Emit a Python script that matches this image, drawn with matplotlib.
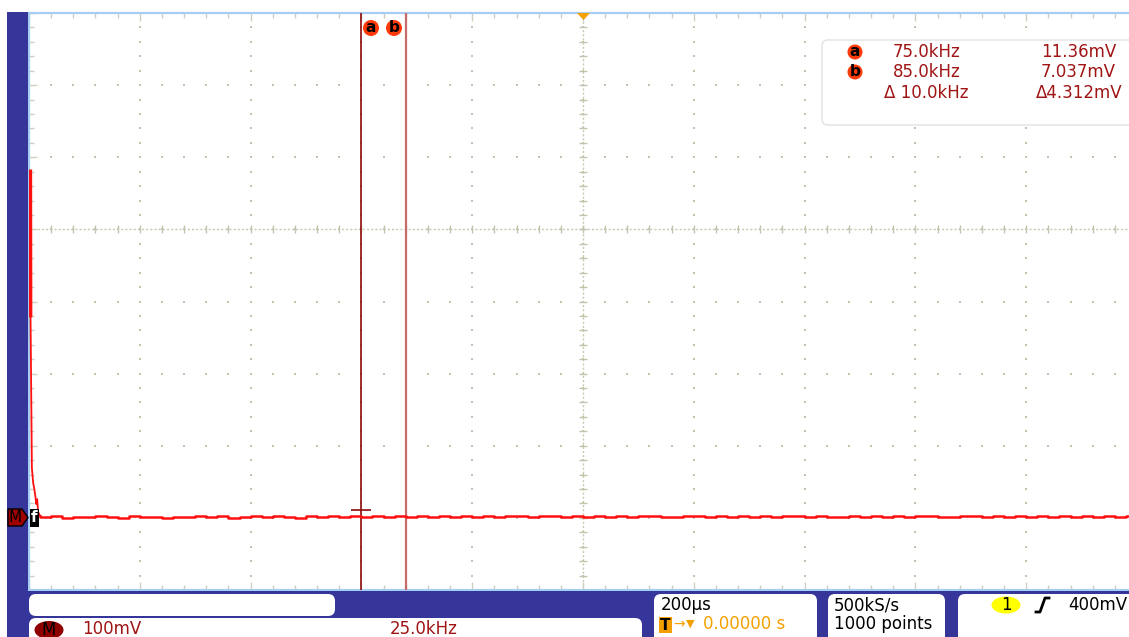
import matplotlib
matplotlib.use('Agg')
import matplotlib.pyplot as plt
from matplotlib.patches import Rectangle, FancyBboxPatch, Circle, Ellipse, Polygon
from matplotlib.lines import Line2D
from matplotlib.transforms import Affine2D
import numpy as np

W, H = 1129, 637

# ---------------- data ----------------
khz_per_div = 25.0
mv_per_div = 100.0
x_range_khz = (0.0, 250.0)
y_range_mv = (-100.0, 700.0)

# FFT spike near DC (kHz, mV)
spike_khz = [0.30, 0.35, 0.65, 0.95, 1.20, 1.45, 1.65, 1.85, 2.05, 2.50]
spike_mv = [483, 278, 69, 48, 40, 29, 19, 26, 8, 3]

# noise floor, one value per 2.5 kHz bin from 2.5 kHz to 250 kHz (mV)
base_start_khz = 2.5
base_step_khz = 2.5
base_mv = [
    1.5, 2.0, 0.5, 1.5, 1.5, 2.0, 1.0, 0.5, 2.0, 1.5,
    1.0, 0.0, 1.5, 1.5, 2.0, 1.0, 2.0, 0.5, 1.5, 2.0,
    1.0, 2.5, 1.5, 0.5, 2.0, 1.5, 2.5, 1.0, 2.0, 1.5,
    2.5, 1.0, 2.5, 1.0, 2.0, 1.0, 2.5, 1.5, 2.5, 1.0,
    2.0, 1.0, 2.0, 2.5, 1.0, 2.0, 2.5, 1.0, 2.5, 1.5,
    2.0, 1.5, 2.5, 1.0, 2.0, 2.5, 1.5, 1.0, 2.0, 2.5,
    1.5, 2.0, 1.0, 2.5, 1.5, 2.0, 1.0, 2.0, 2.5, 1.5,
    2.0, 1.0, 1.5, 2.5, 1.0, 2.0, 1.5, 2.5, 1.0, 2.0,
    2.5, 1.5, 1.0, 2.0, 2.5, 1.5, 2.0, 1.0, 2.0, 1.5,
    2.5, 1.0, 2.0, 1.5, 2.5, 1.0, 2.0, 1.5, 2.5, 2.0,
]
base_khz = base_start_khz + base_step_khz * np.arange(len(base_mv))

cursor_a_khz, cursor_a_mv = 75.0, 11.36
cursor_b_khz, cursor_b_mv = 85.0, 7.037
trigger_pos_khz = 125.0
center_hline_mv = 400.0

readout_rows = [
    ("a", "75.0kHz", "11.36mV"),
    ("b", "85.0kHz", "7.037mV"),
    ("", "\u0394 10.0kHz", "\u03944.312mV"),
]

# ---------------- figure ----------------
fig = plt.figure(figsize=(W / 100, H / 100), dpi=100, facecolor='white')
T = Affine2D().scale(1, -1).translate(0, H)  # pixel coords, origin top-left

FONT = 'DejaVu Sans'
DRED = '#a01414'
BLUE = '#35359a'
ORANGE = '#f4a000'

# axes: plot area spans x 29..1137 px (cropped at 1129), y 13..590 px
ax_left, ax_right, ax_top, ax_bot = 29, 1137, 13, 590
ax = fig.add_axes([ax_left / W, 1 - ax_bot / H, (ax_right - ax_left) / W, (ax_bot - ax_top) / H])
ax.set_xlim(*x_range_khz)
ax.set_ylim(*y_range_mv)
ax.set_facecolor('white')
for s in ['top', 'left', 'bottom']:
    ax.spines[s].set_color('#a6cdf2')
    ax.spines[s].set_linewidth(1.6)
ax.spines['right'].set_visible(False)

# graticule ticks on edges
ax.set_xticks(np.arange(0, 250.1, khz_per_div))
ax.set_xticks(np.arange(0, 250.1, khz_per_div / 5), minor=True)
ax.set_yticks(np.arange(-100, 700.1, mv_per_div))
ax.set_yticks(np.arange(-100, 700.1, mv_per_div / 5), minor=True)
ax.tick_params(which='both', direction='in', color='#cfcfbe', top=True, right=False,
               labelleft=False, labelbottom=False, width=1)
ax.tick_params(which='major', length=6)
ax.tick_params(which='minor', length=3.5)

# grid dots
gx_major = np.arange(0, 250.1, khz_per_div)
gy_major = np.arange(-100, 700.1, mv_per_div)
gx_minor = np.arange(0, 250.1, khz_per_div / 5)
gy_minor = np.arange(-100, 700.1, mv_per_div / 5)
X1, Y1 = np.meshgrid(gx_major, gy_minor)
X2, Y2 = np.meshgrid(gx_minor, gy_major)
ax.scatter(X1.ravel(), Y1.ravel(), s=2.5, marker='s', color='#c4c4ae', linewidths=0, zorder=1)
ax.scatter(X2.ravel(), Y2.ravel(), s=2.5, marker='s', color='#c4c4ae', linewidths=0, zorder=1)

# centre dotted lines + cross ticks
ax.axvline(trigger_pos_khz, color='#c8c8b2', lw=1.0, ls=(0, (1.5, 1.5)), zorder=1)
ax.axhline(center_hline_mv, color='#c8c8b2', lw=1.0, ls=(0, (1.5, 1.5)), zorder=1)
ax.plot(np.full_like(gy_minor, trigger_pos_khz), gy_minor, ls='none', marker='_', ms=6,
        mew=1, color='#c4c4ae', zorder=1)
ax.plot(gx_minor, np.full_like(gx_minor, center_hline_mv), ls='none', marker='|', ms=6,
        mew=1, color='#c4c4ae', zorder=1)

# cursors
ax.axvline(cursor_a_khz, color='#8c0a0a', lw=1.2, zorder=3)
ax.axvline(cursor_b_khz, color='#c66a6a', lw=1.6, zorder=3)
ax.plot([cursor_a_khz], [cursor_a_mv], marker='_', ms=15, mew=1.2, color='#8c0a0a', zorder=5)

# trace
ax.plot(spike_khz[:2], spike_mv[:2], color='#ff1010', lw=2.6, zorder=6, solid_capstyle='butt')
ax.plot(spike_khz[1:], spike_mv[1:], color='#ff1010', lw=1.3, zorder=6)
ax.plot(np.concatenate([[spike_khz[-1]], base_khz]), np.concatenate([[spike_mv[-1]], base_mv]),
        color='#ff1010', lw=1.8, drawstyle='steps-post', zorder=6)

# ---------------- frame / panels ----------------
def add(p):
    p.set_transform(T)
    fig.add_artist(p)
    return p

# left blue bar and bottom strip
add(Rectangle((7, 12), 21, H - 12, facecolor=BLUE, edgecolor='none', zorder=10))
add(Rectangle((7, 591), W - 7, H - 591, facecolor=BLUE, edgecolor='none', zorder=10))

def rbox(x, y, w, h, r=7):
    add(FancyBboxPatch((x, y), w, h, boxstyle=f'round,pad=0,rounding_size={r}',
                       facecolor='white', edgecolor='none', zorder=11))

rbox(29, 594, 306, 22)
rbox(29, 618, 613, 30)
rbox(654, 594, 163, 50)
rbox(828, 594, 117, 50)
rbox(958, 594, 200, 50)

def ptext(x, y, s, color='black', size=12, ha='left', va='center', weight='normal', z=12):
    fig.text(x, y, s, transform=T, color=color, fontsize=size, ha=ha, va=va,
             family=FONT, fontweight=weight, zorder=z)

# bottom info
add(Ellipse((49, 630), 29, 18, facecolor='#8e0000', edgecolor='none', zorder=12))
ptext(49, 630, 'M', color='black', size=12, ha='center')
ptext(82, 629, '100mV', color=DRED)
ptext(390, 629, '25.0kHz', color=DRED)

ptext(661, 605, '200\u00b5s')
add(Rectangle((659, 617), 13, 16, facecolor=ORANGE, edgecolor='none', zorder=12))
ptext(665.5, 625, 'T', size=11, ha='center', weight='bold', z=13)
ptext(673, 624, '\u2192', color=ORANGE, size=10)
ptext(686, 624, '\u25bc', color=ORANGE, size=8)
ptext(703, 624, '0.00000 s', color=ORANGE)

ptext(834, 605, '500kS/s')
ptext(834, 624, '1000 points')

add(Ellipse((1006, 605), 29, 17, facecolor='#ffff00', edgecolor='none', zorder=12))
ptext(1006, 605, '1', ha='center')
fig.add_artist(Line2D([1036, 1040, 1045, 1049], [612, 612, 598, 598], transform=T,
                      color='black', lw=2, zorder=12))
ptext(1068, 605, '400mV')

# readout box
add(FancyBboxPatch((822, 40), 340, 85, boxstyle='round,pad=0,rounding_size=6',
                   facecolor='white', edgecolor='#e6e6e6', lw=1.2, zorder=11))
row_y = [52, 72, 93]
for (badge, fstr, vstr), yy in zip(readout_rows, row_y):
    if badge:
        add(Circle((855, yy), 7.5, facecolor='#ff3a0a', edgecolor='none', zorder=12))
        ptext(855, yy, badge, size=11, ha='center', weight='bold', z=13)
        ptext(893, yy, fstr, color=DRED)
        ptext(1116, yy, vstr, color=DRED, ha='right')
    else:
        ptext(884, yy, fstr, color=DRED)
        ptext(1122, yy, vstr, color=DRED, ha='right')

# cursor badges at top
for cx, lab in [(371, 'a'), (394, 'b')]:
    add(Circle((cx, 28), 8, facecolor='#ff3a0a', edgecolor='none', zorder=12))
    ptext(cx, 28, lab, size=11, ha='center', weight='bold', z=13)

# trigger position marker
add(Polygon([[577, 13], [590, 13], [583.5, 20]], closed=True, facecolor=ORANGE,
            edgecolor='none', zorder=12))

# left reference marker "M" and "f" label
add(Polygon([[8, 509], [22, 509], [28, 517.5], [22, 526], [8, 526]], closed=True,
            facecolor='#a00000', edgecolor='black', lw=1, zorder=12))
ptext(15, 518, 'M', size=11, ha='center', z=13)
add(Rectangle((30, 509), 9, 18, facecolor='black', edgecolor='none', zorder=12))
ptext(34.5, 518, 'f', color='white', size=11, ha='center', weight='bold', z=13)

fig.savefig('out.png', dpi=100, facecolor='white')
